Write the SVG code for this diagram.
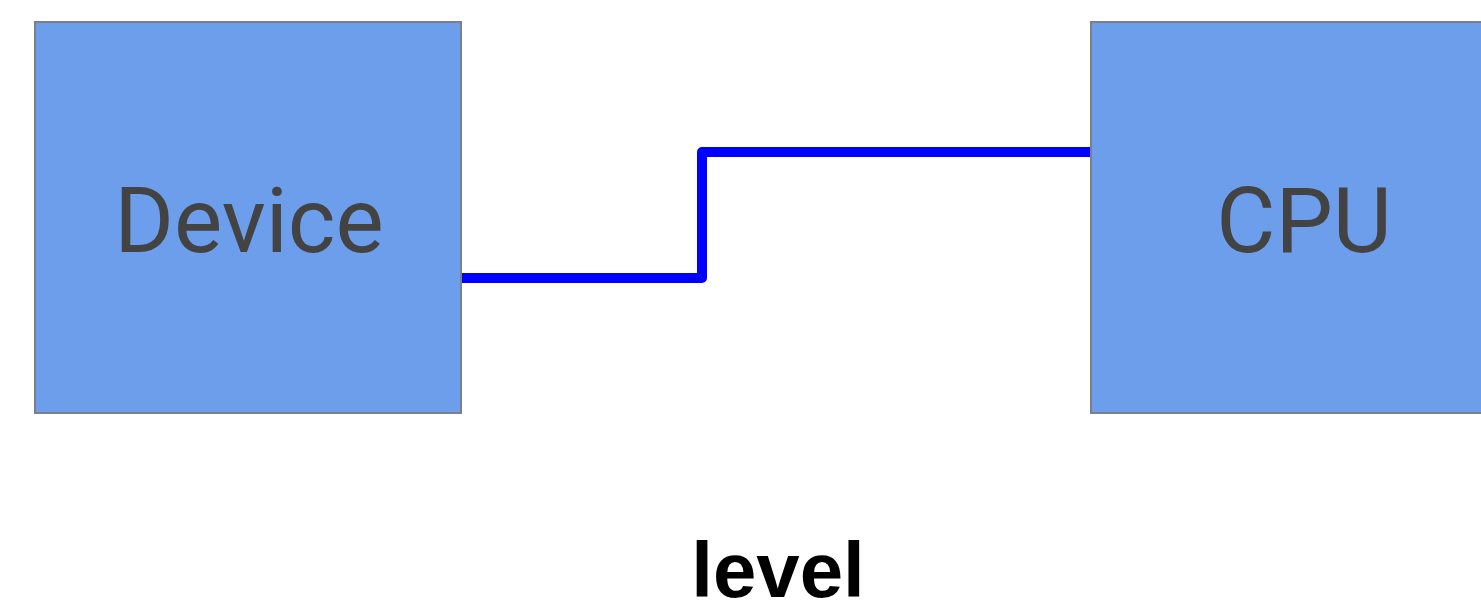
<svg xmlns="http://www.w3.org/2000/svg" width="1481" height="603" viewBox="0 0 1481 603">
<style>
.box{fill:#6d9eeb;stroke:#7a7f88;stroke-width:2}
.lbl{font-family:Roboto,"Liberation Sans",sans-serif;font-size:91px;fill:#434343;text-anchor:middle}
.wire{fill:none;stroke:#0000ff;stroke-width:10;stroke-linejoin:round}
</style>
<rect width="1481" height="603" fill="#ffffff"/>
<g id="connectors">
<polyline class="wire" points="461,278 702,278 702,152 1091,152"/>
</g>
<g id="device">
<rect class="box" x="35" y="22" width="426" height="391"/>
<text class="lbl" x="249" y="252">Device</text>
</g>
<g id="cpu">
<rect class="box" x="1091" y="22" width="426" height="391"/>
<text class="lbl" x="1304" y="252">CPU</text>
</g>
<text id="caption" x="778" y="597" font-family="'Liberation Sans',Arial,sans-serif" font-weight="bold" font-size="78" fill="#000000" text-anchor="middle">level</text>
</svg>
